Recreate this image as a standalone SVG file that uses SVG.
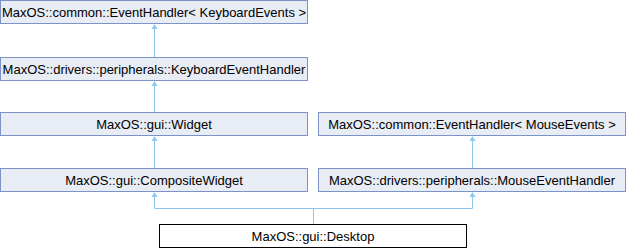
<svg xmlns="http://www.w3.org/2000/svg" width="626" height="248" viewBox="0 0 626 248">
<style>
.n rect{fill:#E8ECF5;stroke:#7B93C6;stroke-width:1}
.n.leaf rect{fill:#FFFFFF;stroke:#000000}
.n text{font-family:"Liberation Sans",Arial,sans-serif;font-size:13px;fill:#000;text-anchor:middle}
.e{fill:none;stroke:#8CC8EE;stroke-width:1}
.h{fill:#8CC8EE;stroke:none}
</style>
<defs>
<path id="ah" d="M0,0 L-3,5 L3,5 Z"/>
</defs>
<g id="n1" class="n"><rect x="0.5" y="0.5" width="307" height="23"/><text x="154" y="16.5">MaxOS::common::EventHandler&lt; KeyboardEvents &gt;</text></g>
<g id="n2" class="n"><rect x="0.5" y="57.5" width="307" height="23"/><text x="154" y="73.5">MaxOS::drivers::peripherals::KeyboardEventHandler</text></g>
<g id="n3" class="n"><rect x="0.5" y="112.5" width="307" height="23"/><text x="154" y="128.5">MaxOS::gui::Widget</text></g>
<g id="n4" class="n"><rect x="0.5" y="168.5" width="307" height="23"/><text x="154" y="184.5">MaxOS::gui::CompositeWidget</text></g>
<g id="n5" class="n"><rect x="318.5" y="112.5" width="307" height="23"/><text x="472" y="128.5">MaxOS::common::EventHandler&lt; MouseEvents &gt;</text></g>
<g id="n6" class="n"><rect x="318.5" y="168.5" width="307" height="23"/><text x="472" y="184.5">MaxOS::drivers::peripherals::MouseEventHandler</text></g>
<g id="n7" class="n leaf"><rect x="159.5" y="224.5" width="307" height="23"/><text x="313" y="240.5">MaxOS::gui::Desktop</text></g>
<g id="edges">
<path class="e" d="M154.5,57 V28"/>
<use href="#ah" class="h" x="154.5" y="24"/>
<path class="e" d="M154.5,112 V84"/>
<use href="#ah" class="h" x="154.5" y="81"/>
<path class="e" d="M154.5,168 V140"/>
<use href="#ah" class="h" x="154.5" y="136"/>
<path class="e" d="M472.5,168 V140"/>
<use href="#ah" class="h" x="472.5" y="136"/>
<path class="e" d="M313.5,224 V208.5 M154.5,208.5 H472.5 M154.5,208.5 V196 M472.5,208.5 V196"/>
<use href="#ah" class="h" x="154.5" y="192"/>
<use href="#ah" class="h" x="472.5" y="192"/>
</g>
</svg>
